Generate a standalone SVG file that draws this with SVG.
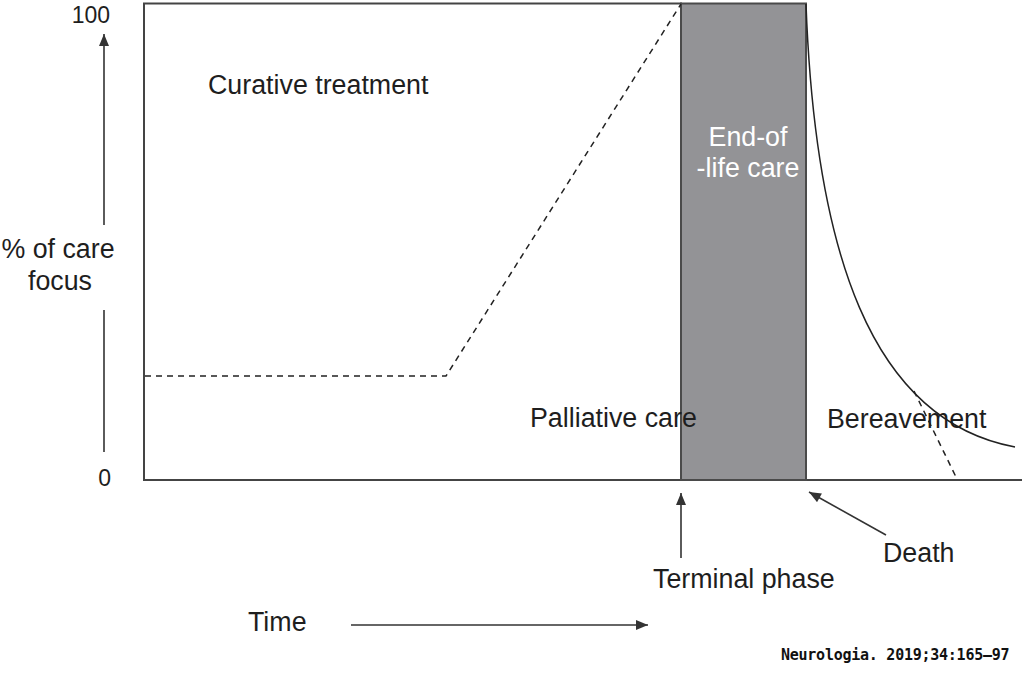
<svg xmlns="http://www.w3.org/2000/svg" width="1024" height="677" viewBox="0 0 1024 677">
<style>
text{font-family:"Liberation Sans",Arial,sans-serif;fill:#1e1e1e}
.lbl{font-size:26.8px}
.tick{font-size:23px}
.white{fill:#ffffff}
.frame{stroke:#444;stroke-width:2;fill:none}
.dash{stroke:#222;stroke-width:1.5;fill:none;stroke-dasharray:6 5}
.arr{stroke:#333;stroke-width:1.6;fill:none;marker-end:url(#ah)}
.cite{font-family:"DejaVu Sans Mono","Liberation Mono",monospace;font-size:15px;letter-spacing:-0.25px;font-weight:bold;fill:#111}
</style>
<defs>
<marker id="ah" viewBox="0 0 12 10" refX="12" refY="5" markerWidth="13" markerHeight="10" markerUnits="userSpaceOnUse" orient="auto">
<path d="M0,0 L12,5 L0,10 z" fill="#333"/>
</marker>
</defs>
<rect width="1024" height="677" fill="#ffffff"/>
<g id="frame">
<line class="frame" x1="144" y1="3" x2="144" y2="481"/>
<line class="frame" x1="143" y1="3.5" x2="682" y2="3.5"/>
<line class="frame" x1="143" y1="480" x2="1022" y2="480" stroke-width="2.5"/>
</g>
<g id="end-of-life-care">
<rect x="681" y="3.5" width="125" height="476.5" fill="#939396" stroke="#4a4a4a" stroke-width="2"/>
<text class="lbl white" x="748" y="146" text-anchor="middle">End-of</text>
<text class="lbl white" x="748" y="177" text-anchor="middle">-life care</text>
</g>
<g id="connectors">
<polyline class="dash" points="145,376 446,376 681,4"/>
<path d="M806,4 C815,250 870,420 1015,447" fill="none" stroke="#222" stroke-width="1.5"/>
<line class="dash" x1="914" y1="391" x2="957" y2="479"/>
<line class="arr" x1="104" y1="225" x2="104" y2="34"/>
<line x1="104" y1="310" x2="104" y2="452" stroke="#333" stroke-width="1.6"/>
<line class="arr" x1="681" y1="558" x2="681" y2="493"/>
<line class="arr" x1="886" y1="535" x2="809" y2="492"/>
<line class="arr" x1="351" y1="625" x2="648" y2="625"/>
</g>
<g id="axis-labels">
<text class="tick" x="110" y="23" text-anchor="end">100</text>
<text class="tick" x="111" y="486" text-anchor="end">0</text>
<text class="lbl" x="58" y="258" text-anchor="middle">% of care</text>
<text class="lbl" x="60" y="290" text-anchor="middle">focus</text>
</g>
<g id="curative"><text class="lbl" x="208" y="94">Curative treatment</text></g>
<g id="palliative"><text class="lbl" x="530" y="427">Palliative care</text></g>
<g id="bereavement"><text class="lbl" x="827" y="428">Bereavement</text></g>
<g id="terminal"><text class="lbl" x="653" y="588">Terminal phase</text></g>
<g id="death"><text class="lbl" x="883" y="562">Death</text></g>
<g id="time"><text class="lbl" x="248" y="631">Time</text></g>
<text class="cite" x="781" y="660">Neurologia. 2019;34:165–97</text>
</svg>
